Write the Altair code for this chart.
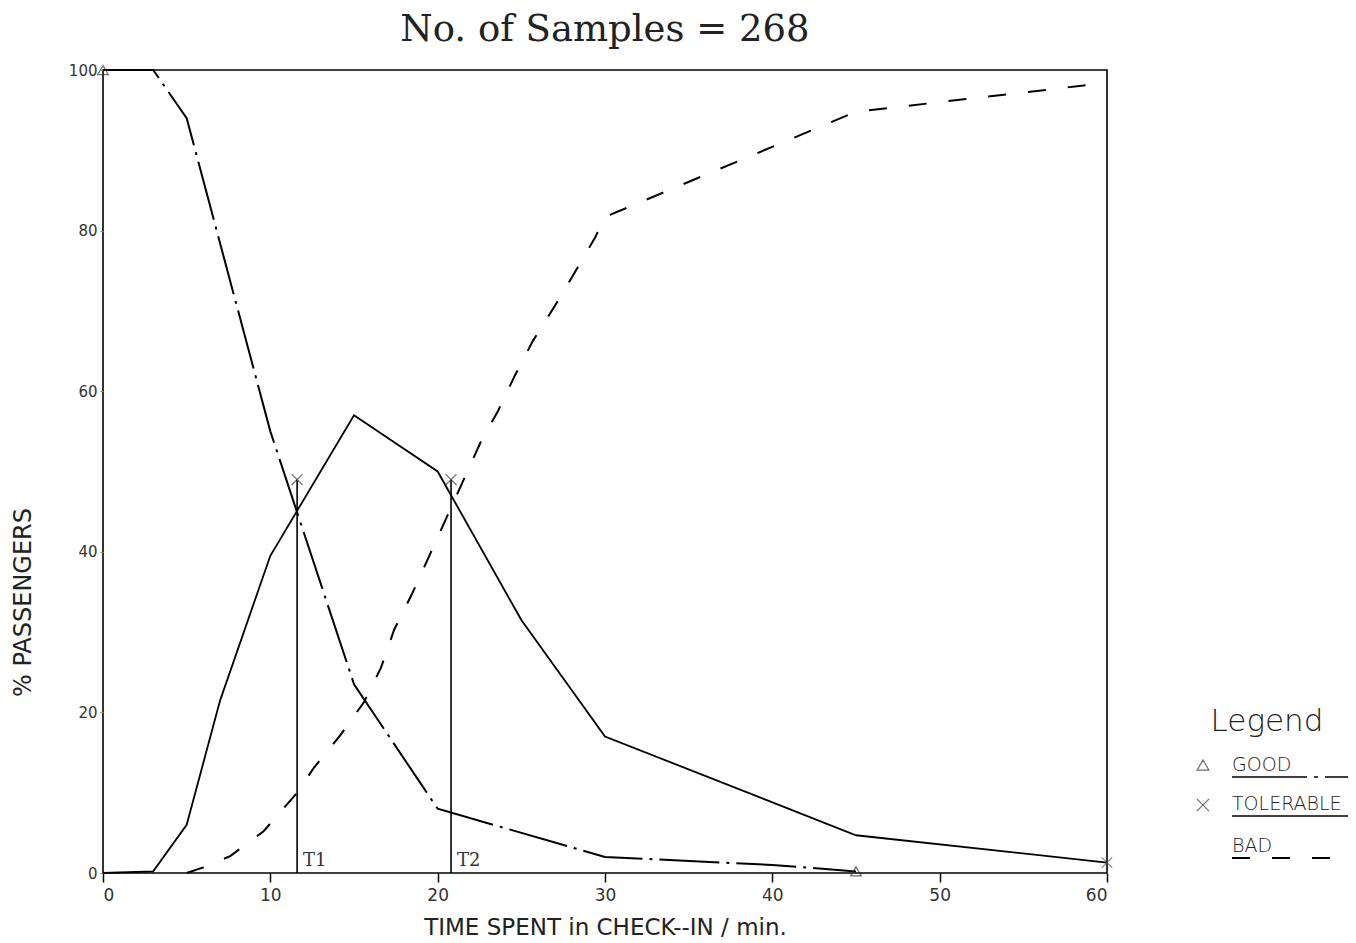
import altair as alt
import pandas as pd

# ---- data ----
good_x = [0, 3, 5, 10, 15, 20, 30, 40, 45]
good_y = [100, 100, 94, 55, 23.5, 8, 2, 1, 0.2]

tol_x = [0, 3, 5, 7, 10, 15, 20, 25, 30, 45, 60]
tol_y = [0, 0.2, 6, 21.5, 39.5, 57, 50, 31.5, 17, 4.7, 1.3]

bad_x = [5, 6, 7.6, 9.6, 11.6, 12.6, 14.2, 15.6, 16.6, 17.4, 18.5, 19.5, 22.6,
         23.6, 24.6, 25.7, 27, 28.2, 29.4, 30, 45, 60]
bad_y = [0, 0.7, 2.1, 5.2, 10, 13.1, 17.2, 21.3, 25.5, 30.3, 34.9, 39.5, 53.8,
         57.5, 61.9, 66.3, 70.6, 74.8, 79.1, 81.7, 94.8, 98.4]

t_names = ["T1", "T2"]
t_x = [11.6, 20.8]
t_top = [49, 49]

x_ticks = [0, 10, 20, 30, 40, 50, 60]
y_ticks = [0, 20, 40, 60, 80, 100]

legend_title = "Legend"
legend_names = ["GOOD", "TOLERABLE", "BAD"]

W, H = 1004, 803
xs = alt.Scale(domain=[0, 60], nice=False, zero=False)
ys = alt.Scale(domain=[0, 100], nice=False)

good = pd.DataFrame({"x": good_x, "y": good_y})
tol = pd.DataFrame({"x": tol_x, "y": tol_y})
bad = pd.DataFrame({"x": bad_x, "y": bad_y})
tdf = pd.DataFrame({"name": t_names, "x": t_x, "top": t_top, "zero": [0, 0]})

X = alt.X("x:Q", scale=xs, axis=alt.Axis(
    values=x_ticks, title="TIME SPENT in CHECK--IN / min.", grid=False, domain=False,
    tickSize=9, tickWidth=1.5, tickColor="black", labelPadding=5,
    labelFontSize=17, labelFont="DejaVu Sans", labelColor="#333",
    titleFont="DejaVu Sans", titleFontSize=23, titleFontWeight="normal",
    titleColor="#222", titlePadding=13))
Y = alt.Y("y:Q", scale=ys, axis=alt.Axis(
    values=y_ticks, title="% PASSENGERS", grid=False, domain=False,
    tickSize=3, tickColor="#888", labelPadding=3,
    labelFontSize=15, labelFont="DejaVu Sans", labelColor="#333",
    titleFont="DejaVu Sans", titleFontSize=24, titleFontWeight="normal",
    titleColor="#222", titleX=-80, titleY=532, titleAlign="center",
    titleBaseline="middle"))

good_line = alt.Chart(good).mark_line(color="black", strokeWidth=2,
                                      strokeDash=[60, 7, 3, 7]).encode(x=X, y=Y)
tol_line = alt.Chart(tol).mark_line(color="black", strokeWidth=1.8).encode(x=X, y=Y)
bad_line = alt.Chart(bad).mark_line(color="black", strokeWidth=2,
                                    strokeDash=[18, 22]).encode(x=X, y=Y)

t_rules = alt.Chart(tdf).mark_rule(color="black", strokeWidth=1.6).encode(
    x=alt.X("x:Q", scale=xs), y=alt.Y("zero:Q", scale=ys), y2="top:Q")
t_labels = alt.Chart(tdf).mark_text(align="left", baseline="bottom", dx=6, dy=-3,
                                    font="DejaVu Serif", fontSize=18, color="#333").encode(
    x=alt.X("x:Q", scale=xs), y=alt.Y("zero:Q", scale=ys), text="name:N")
t_marks = alt.Chart(tdf).mark_point(shape="M-1,-1L1,1M1,-1L-1,1", size=120,
                                    color="#333", strokeWidth=1.2, filled=False).encode(
    x=alt.X("x:Q", scale=xs), y=alt.Y("top:Q", scale=ys))

good_ends = alt.Chart(good.iloc[[0, -1]]).mark_point(
    shape="triangle-up", size=110, color="#333", filled=False, strokeWidth=1.3).encode(x=X, y=Y)
tol_ends = alt.Chart(tol.iloc[[-1]]).mark_point(
    shape="M-1,-1L1,1M1,-1L-1,1", size=110, color="#555", strokeWidth=1.2).encode(x=X, y=Y)

# ---- hand-built legend (outside the plot area, right side) ----
leg_title = alt.Chart(pd.DataFrame({"t": [legend_title]})).mark_text(
    font="DejaVu Sans", fontSize=31, fontWeight=200, color="#222",
    align="center", baseline="middle").encode(
    x=alt.value(1164), y=alt.value(652), text="t:N")
leg_df = pd.DataFrame({"name": legend_names, "ypix": [695, 734, 776]})
leg_text = alt.Chart(leg_df).mark_text(
    font="DejaVu Sans", fontSize=19, fontWeight=200, color="#222",
    align="left", baseline="middle").encode(
    x=alt.value(1129), y=alt.Y("ypix:Q", scale=None), text="name:N")
sym_good = alt.Chart(pd.DataFrame({"s": [legend_names[0]]})).mark_point(
    shape="triangle-up", size=140, color="#333", filled=False, strokeWidth=1.2).encode(
    x=alt.value(1100), y=alt.value(695))
sym_tol = alt.Chart(pd.DataFrame({"s": [legend_names[1]]})).mark_point(
    shape="M-1,-1L1,1M1,-1L-1,1", size=150, color="#333", strokeWidth=1.2).encode(
    x=alt.value(1100), y=alt.value(735))
u_good = alt.Chart(pd.DataFrame({"s": [legend_names[0]]})).mark_rule(
    color="black", strokeWidth=1.6, strokeDash=[75, 7, 4, 7]).encode(
    x=alt.value(1129), x2=alt.value(1245), y=alt.value(707))
u_tol = alt.Chart(pd.DataFrame({"s": [legend_names[1]]})).mark_rule(
    color="black", strokeWidth=1.6).encode(
    x=alt.value(1129), x2=alt.value(1245), y=alt.value(746))
u_bad = alt.Chart(pd.DataFrame({"s": [legend_names[2]]})).mark_rule(
    color="black", strokeWidth=1.8, strokeDash=[18, 22]).encode(
    x=alt.value(1129), x2=alt.value(1240), y=alt.value(788))

chart = alt.layer(
    tol_line, good_line, bad_line, t_rules, t_labels, t_marks, good_ends, tol_ends,
    leg_title, leg_text, sym_good, sym_tol, u_good, u_tol, u_bad
).properties(
    width=W, height=H,
    title=alt.TitleParams("No. of Samples = 268", font="DejaVu Serif", fontSize=37,
                          fontWeight="normal", color="#222", anchor="middle", offset=14),
    autosize=alt.AutoSizeParams(type="none"),
    padding={"left": 103, "top": 70, "right": 249, "bottom": 70},
).configure_view(stroke="black", strokeWidth=1.6)

chart.save("out.html", embed_options={"renderer": "svg", "actions": False})
